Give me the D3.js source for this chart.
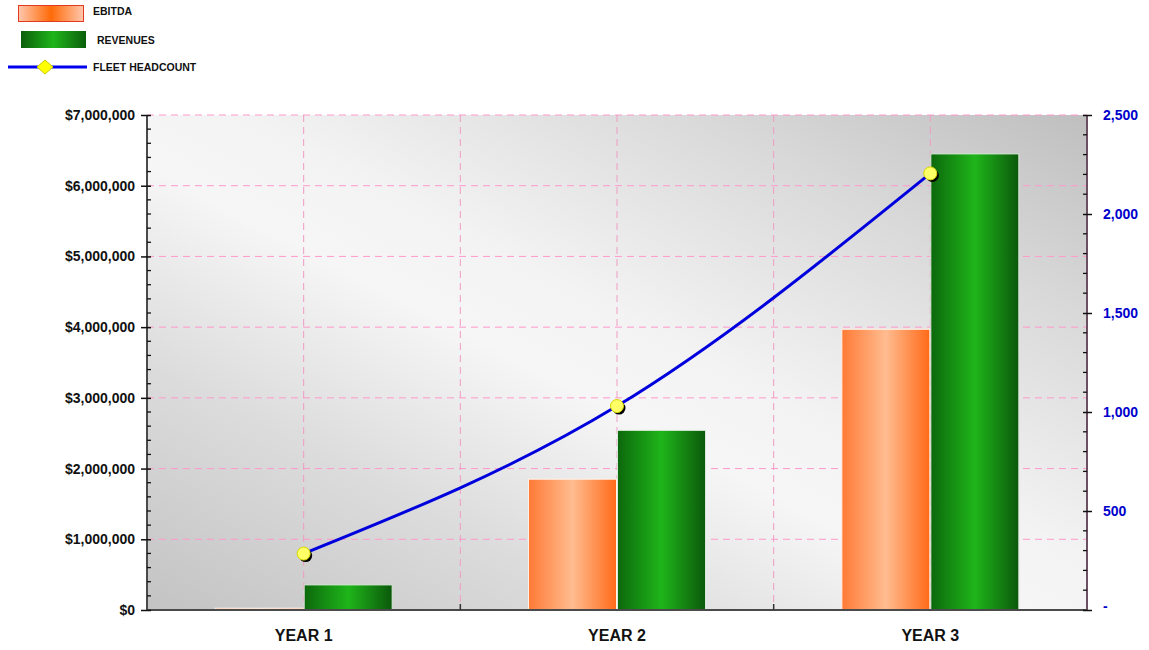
<!DOCTYPE html>
<html>
<head>
<meta charset="utf-8">
<script src="https://cdn.jsdelivr.net/npm/d3@7"></script>
<style>
  html, body { margin: 0; padding: 0; background: #fff; }
  svg { display: block; font-family: "Liberation Sans", Arial, sans-serif; }
</style>
</head>
<body>
<svg id="chart" width="1149" height="650"></svg>
<script>
const categories = ["YEAR 1", "YEAR 2", "YEAR 3"];
const ebitda = [25000, 1850000, 3970000];
const revenues = [355000, 2540000, 6450000];
const headcount = [285, 1030, 2205];
const leftTicks = [0, 1000000, 2000000, 3000000, 4000000, 5000000, 6000000, 7000000];
const rightTicks = [0, 500, 1000, 1500, 2000, 2500];
const seriesNames = ["EBITDA", "REVENUES"];

const svg = d3.select("#chart");
const W = 1149, H = 650;
const m = { left: 147, right: 1087, top: 115, bottom: 610 };

const defs = svg.append("defs");
const bg = defs.append("linearGradient").attr("id", "bgGrad")
  .attr("x1", 0).attr("y1", 1).attr("x2", 1).attr("y2", 0);
[[0, "#c3c3c3"], [0.25, "#dcdcdc"], [0.45, "#f6f6f6"], [0.55, "#f3f3f3"], [0.8, "#d8d8d8"], [1, "#bfbfbf"]]
  .forEach(([o, c]) => bg.append("stop").attr("offset", o).attr("stop-color", c));

const og = defs.append("linearGradient").attr("id", "orangeGrad").attr("x1", 0).attr("x2", 1).attr("y1", 0).attr("y2", 0);
[[0, "#ff7a35"], [0.5, "#ffbc90"], [1, "#ff6a18"]].forEach(([o, c]) => og.append("stop").attr("offset", o).attr("stop-color", c));
const gg = defs.append("linearGradient").attr("id", "greenGrad").attr("x1", 0).attr("x2", 1).attr("y1", 0).attr("y2", 0);
[[0, "#0c680c"], [0.5, "#1fb51a"], [1, "#0b580b"]].forEach(([o, c]) => gg.append("stop").attr("offset", o).attr("stop-color", c));
const lo = defs.append("linearGradient").attr("id", "legOrange").attr("x1", 0).attr("x2", 1).attr("y1", 0).attr("y2", 0);
[[0, "#ffc7ad"], [0.5, "#ff6a08"], [1, "#ffc7ad"]].forEach(([o, c]) => lo.append("stop").attr("offset", o).attr("stop-color", c));
const lg = defs.append("linearGradient").attr("id", "legGreen").attr("x1", 0).attr("x2", 1).attr("y1", 0).attr("y2", 0);
[[0, "#0b5e0b"], [0.5, "#1fb51a"], [1, "#0b5e0b"]].forEach(([o, c]) => lg.append("stop").attr("offset", o).attr("stop-color", c));

// Scales
const x0 = d3.scaleBand().domain(categories).range([m.left, m.right]).paddingInner(0.432).paddingOuter(0.216);
const x1 = d3.scaleBand().domain(seriesNames).range([0, x0.bandwidth()]).padding(0);
const yL = d3.scaleLinear().domain([0, 7000000]).range([m.bottom, m.top]);
const yR = d3.scaleLinear().domain([0, 2500]).range([m.bottom, m.top]);
const step = (m.right - m.left) / categories.length;

// Background
svg.append("rect").attr("x", m.left).attr("y", m.top).attr("width", m.right - m.left).attr("height", m.bottom - m.top)
  .attr("fill", "url(#bgGrad)");

// Grid
const grid = svg.append("g");
grid.selectAll("line.h").data(leftTicks.filter(d => d > 0)).join("line")
  .attr("x1", m.left).attr("x2", m.right).attr("y1", d => yL(d)).attr("y2", d => yL(d))
  .attr("stroke", "#ff99cc").attr("stroke-width", 1).attr("stroke-dasharray", "7,5");
const vpos = [];
categories.forEach((c, i) => { vpos.push(x0(c) + x0.bandwidth() / 2); if (i > 0) vpos.push(m.left + step * i); });
grid.selectAll("line.v").data(vpos).join("line")
  .attr("x1", d => d).attr("x2", d => d).attr("y1", m.top).attr("y2", m.bottom)
  .attr("stroke", "#ee9cc4").attr("stroke-width", 1).attr("stroke-dasharray", "7,5");

// Bars
const data = categories.map((c, i) => ({ cat: c, vals: [ { k: "EBITDA", v: ebitda[i] }, { k: "REVENUES", v: revenues[i] } ] }));
const groups = svg.append("g").selectAll("g").data(data).join("g").attr("transform", d => `translate(${x0(d.cat)},0)`);
groups.selectAll("rect").data(d => d.vals).join("rect")
  .attr("x", d => x1(d.k) + 0.5)
  .attr("y", d => yL(d.v))
  .attr("width", x1.bandwidth() - 1)
  .attr("height", d => m.bottom - yL(d.v))
  .attr("fill", d => d.k === "EBITDA" ? "url(#orangeGrad)" : "url(#greenGrad)")
  .attr("stroke", d => d.k === "EBITDA" ? "#fff3ea" : "#d8e8d8").attr("stroke-width", 1);

// Axes lines
const axisCol = "#4a4a4a";
svg.append("line").attr("x1", m.left).attr("x2", m.right).attr("y1", m.bottom).attr("y2", m.bottom).attr("stroke", axisCol).attr("stroke-width", 2);
svg.append("line").attr("x1", m.left).attr("x2", m.left).attr("y1", m.top).attr("y2", m.bottom + 1).attr("stroke", axisCol).attr("stroke-width", 2);
svg.append("line").attr("x1", m.right).attr("x2", m.right).attr("y1", m.top).attr("y2", m.bottom + 1).attr("stroke", "#6a5060").attr("stroke-width", 2);

// Left axis
const leftAxis = d3.axisLeft(yL).tickValues(leftTicks).tickSize(6).tickPadding(6)
  .tickFormat(d => "$" + d3.format(",")(d));
const gL = svg.append("g").attr("transform", `translate(${m.left},0)`).call(leftAxis);
gL.select(".domain").remove();
gL.selectAll(".tick line").attr("x2", -6).attr("x1", 4).attr("stroke", "#111").attr("stroke-width", 1.5);
gL.selectAll(".tick text").attr("font-size", 14).attr("font-weight", "bold").attr("fill", "#111").attr("x", -12);
const minorL = d3.range(200000, 7000000, 200000).filter(d => d % 1000000 !== 0);
svg.append("g").selectAll("line").data(minorL).join("line")
  .attr("x1", m.left).attr("x2", m.left + 4).attr("y1", d => yL(d)).attr("y2", d => yL(d)).attr("stroke", "#111").attr("stroke-width", 1.3);

// Right axis
const rightAxis = d3.axisRight(yR).tickValues(rightTicks).tickSize(6).tickPadding(10)
  .tickFormat(d => d === 0 ? "-" : d3.format(",")(d));
const gR = svg.append("g").attr("transform", `translate(${m.right},0)`).call(rightAxis);
gR.select(".domain").remove();
gR.selectAll(".tick line").attr("x1", -4).attr("x2", 5).attr("stroke", "#111").attr("stroke-width", 1.5);
gR.selectAll(".tick text").attr("font-size", 14).attr("font-weight", "bold").attr("fill", "#0000cc").attr("x", 16)
  .attr("dy", d => d === 0 ? "0" : "0.32em");
const minorR = d3.range(100, 2500, 100).filter(d => d % 500 !== 0);
svg.append("g").selectAll("line").data(minorR).join("line")
  .attr("x1", m.right - 4).attr("x2", m.right).attr("y1", d => yR(d)).attr("y2", d => yR(d)).attr("stroke", "#111").attr("stroke-width", 1.3);

// Bottom ticks at category boundaries
svg.append("g").selectAll("line").data(d3.range(1, categories.length)).join("line")
  .attr("x1", i => m.left + step * i).attr("x2", i => m.left + step * i)
  .attr("y1", m.bottom - 6).attr("y2", m.bottom).attr("stroke", "#333").attr("stroke-width", 1.5);

// Bottom axis labels
svg.append("g").selectAll("text").data(categories).join("text")
  .attr("x", d => x0(d) + x0.bandwidth() / 2).attr("y", 641)
  .attr("text-anchor", "middle").attr("font-size", 16).attr("font-weight", "bold").attr("fill", "#111")
  .text(d => d);

// Line
const pts = categories.map((c, i) => [x0(c) + x0.bandwidth() / 2, yR(headcount[i])]);
svg.append("path").attr("d", d3.line().curve(d3.curveMonotoneX)(pts))
  .attr("fill", "none").attr("stroke", "#0000dd").attr("stroke-width", 3);
svg.append("g").selectAll("circle").data(pts).join("circle")
  .attr("cx", d => d[0] + 2).attr("cy", d => d[1] + 2).attr("r", 6.5).attr("fill", "#000");
svg.append("g").selectAll("circle").data(pts).join("circle")
  .attr("cx", d => d[0]).attr("cy", d => d[1]).attr("r", 6.5).attr("fill", "#ffff66").attr("stroke", "#d6d600").attr("stroke-width", 1);

// Legend
const leg = svg.append("g");
leg.append("rect").attr("x", 18.5).attr("y", 5.5).attr("width", 65).attr("height", 16).attr("fill", "url(#legOrange)").attr("stroke", "#e03a20").attr("stroke-width", 1);
leg.append("text").attr("x", 93).attr("y", 15).attr("font-size", 10.5).attr("font-weight", "bold").attr("fill", "#111").text(seriesNames[0]);
leg.append("rect").attr("x", 21).attr("y", 31).attr("width", 65).attr("height", 17).attr("fill", "url(#legGreen)");
leg.append("text").attr("x", 97).attr("y", 44).attr("font-size", 10.5).attr("font-weight", "bold").attr("fill", "#111").text(seriesNames[1]);
leg.append("line").attr("x1", 8).attr("x2", 87).attr("y1", 67).attr("y2", 67).attr("stroke", "#0000ee").attr("stroke-width", 3);
leg.append("path").attr("d", "M45,60 L53,67 L45,74 L37,67 Z").attr("fill", "#ffff00").attr("stroke", "#c8c800").attr("stroke-width", 1);
leg.append("text").attr("x", 93).attr("y", 71).attr("font-size", 10.5).attr("font-weight", "bold").attr("fill", "#111").text("FLEET HEADCOUNT");
</script>
</body>
</html>
